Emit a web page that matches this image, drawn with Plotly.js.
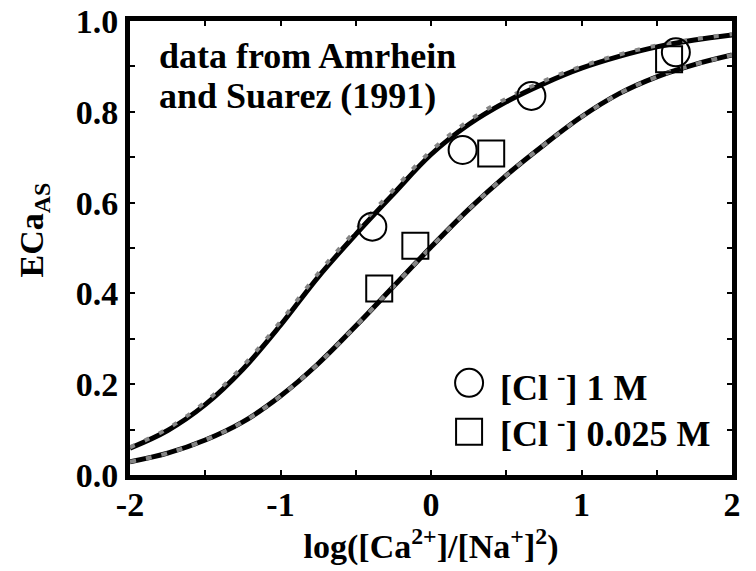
<!DOCTYPE html>
<html>
<head>
<meta charset="utf-8">
<script src="https://cdn.plot.ly/plotly-3.0.1.min.js"></script>
<style>html,body{margin:0;padding:0;background:#fff;}#chart{width:756px;height:571px;}</style>
</head>
<body>
<div id="chart"></div>
<script>
// Model curves
var curveX = [-2, -1.75, -1.5, -1.25, -1, -0.75, -0.5, -0.25, 0, 0.25, 0.5, 0.75, 1, 1.25, 1.5, 1.75, 2];
var fit1M = [0.059, 0.098, 0.155, 0.233, 0.330, 0.436, 0.530, 0.619, 0.706, 0.772, 0.822, 0.862, 0.896, 0.922, 0.943, 0.958, 0.969];
var fit1MAlt = [0.061, 0.102, 0.161, 0.240, 0.338, 0.444, 0.539, 0.628, 0.714, 0.780, 0.829, 0.868, 0.900, 0.926, 0.946, 0.960, 0.971];
var fit0025M = [0.029, 0.048, 0.077, 0.117, 0.174, 0.245, 0.328, 0.415, 0.502, 0.585, 0.660, 0.727, 0.789, 0.840, 0.877, 0.904, 0.925];

// Measured data (Amrhein and Suarez, 1991)
var cl1MX = [-0.39, 0.21, 0.667, 1.627];
var cl1MY = [0.547, 0.716, 0.835, 0.931];
var cl0025MX = [-0.344, -0.104, 0.40, 1.582];
var cl0025MY = [0.411, 0.505, 0.708, 0.916];

// Tick labels
var xTickVals = [-2, -1, 0, 1, 2];
var xTickText = ['-2', '-1', '0', '1', '2'];
var yTickVals = [0, 0.2, 0.4, 0.6, 0.8, 1.0];
var yTickText = ['0.0', '0.2', '0.4', '0.6', '0.8', '1.0'];

var FONT = 'Times New Roman';
function f(size) { return {family: FONT, size: size, color: '#000', weight: 'bold'}; }

var traces = [
  {x: curveX, y: fit1M, mode: 'lines', line: {color: '#000', width: 5, shape: 'spline', smoothing: 1}, showlegend: false, hoverinfo: 'skip'},
  {x: curveX, y: fit0025M, mode: 'lines', line: {color: '#000', width: 5, shape: 'spline', smoothing: 1}, showlegend: false, hoverinfo: 'skip'},
  {x: curveX, y: fit1MAlt, mode: 'lines', line: {color: '#858585', width: 4, dash: '5px,11px', shape: 'spline', smoothing: 1}, showlegend: false, hoverinfo: 'skip'},
  {x: curveX, y: fit0025M, mode: 'lines', line: {color: '#858585', width: 4, dash: '6px,10px', shape: 'spline', smoothing: 1}, showlegend: false, hoverinfo: 'skip'},
  {x: cl1MX, y: cl1MY, mode: 'markers', marker: {symbol: 'circle-open', size: 28, color: '#000', line: {width: 2, color: '#000'}}, showlegend: false},
  {x: cl0025MX, y: cl0025MY, mode: 'markers', marker: {symbol: 'square-open', size: 26, color: '#000', line: {width: 2, color: '#000'}}, showlegend: false}
];

var layout = {
  width: 756, height: 571,
  margin: {l: 130, r: 24, t: 21, b: 96},
  paper_bgcolor: '#fff', plot_bgcolor: '#fff',
  font: f(34),
  showlegend: false,
  xaxis: {
    range: [-2, 2], tickvals: xTickVals, ticktext: xTickText,
    ticks: 'inside', ticklen: 5, tickwidth: 2, tickcolor: '#000',
    minor: {dtick: 0.5, ticks: 'inside', ticklen: 5, tickwidth: 2, tickcolor: '#000'},
    showline: true, linewidth: 5, linecolor: '#000', mirror: 'allticks',
    showgrid: false, zeroline: false, ticklabelstandoff: -5,
    tickfont: f(34),
    title: {text: 'log([Ca<sup>2+</sup>]/[Na<sup>+</sup>]<sup>2</sup>)', font: f(34), standoff: 6}
  },
  yaxis: {
    range: [0, 1], tickvals: yTickVals, ticktext: yTickText,
    ticks: 'inside', ticklen: 5, tickwidth: 2, tickcolor: '#000',
    minor: {dtick: 0.1, ticks: 'inside', ticklen: 5, tickwidth: 2, tickcolor: '#000'},
    showline: true, linewidth: 5, linecolor: '#000', mirror: 'allticks',
    showgrid: false, zeroline: false, ticklabelstandoff: 0,
    tickfont: f(34)
  },
  annotations: [
    {x: -0.16, y: 0.54, xref: 'paper', yref: 'paper', xanchor: 'center', yanchor: 'middle', textangle: -90, showarrow: false,
     text: 'ECa<sub>AS</sub>', font: f(34)},
    {x: -1.82, y: 0.923, xref: 'x', yref: 'y', xanchor: 'left', yanchor: 'middle', align: 'left', showarrow: false,
     text: 'data from Amrhein', font: f(36)},
    {x: -1.82, y: 0.835, xref: 'x', yref: 'y', xanchor: 'left', yanchor: 'middle', align: 'left', showarrow: false,
     text: 'and Suarez (1991)', font: f(36)},
    {x: 0.447, y: 0.197, xref: 'x', yref: 'y', xanchor: 'left', yanchor: 'middle', showarrow: false,
     text: '[Cl <sup>-</sup>] 1 M', font: f(36)},
    {x: 0.447, y: 0.095, xref: 'x', yref: 'y', xanchor: 'left', yanchor: 'middle', showarrow: false,
     text: '[Cl <sup>-</sup>] 0.025 M', font: f(36)}
  ],
  shapes: [
    {type: 'circle', xref: 'x', yref: 'y', xsizemode: 'pixel', ysizemode: 'pixel', xanchor: 0.253, yanchor: 0.203,
     x0: -14, x1: 14, y0: -14, y1: 14, line: {color: '#000', width: 2}},
    {type: 'rect', xref: 'x', yref: 'y', xsizemode: 'pixel', ysizemode: 'pixel', xanchor: 0.253, yanchor: 0.095,
     x0: -13, x1: 13, y0: -13, y1: 13, line: {color: '#000', width: 2}}
  ]
};

Plotly.newPlot('chart', traces, layout, {displayModeBar: false, staticPlot: true});
</script>
</body>
</html>
